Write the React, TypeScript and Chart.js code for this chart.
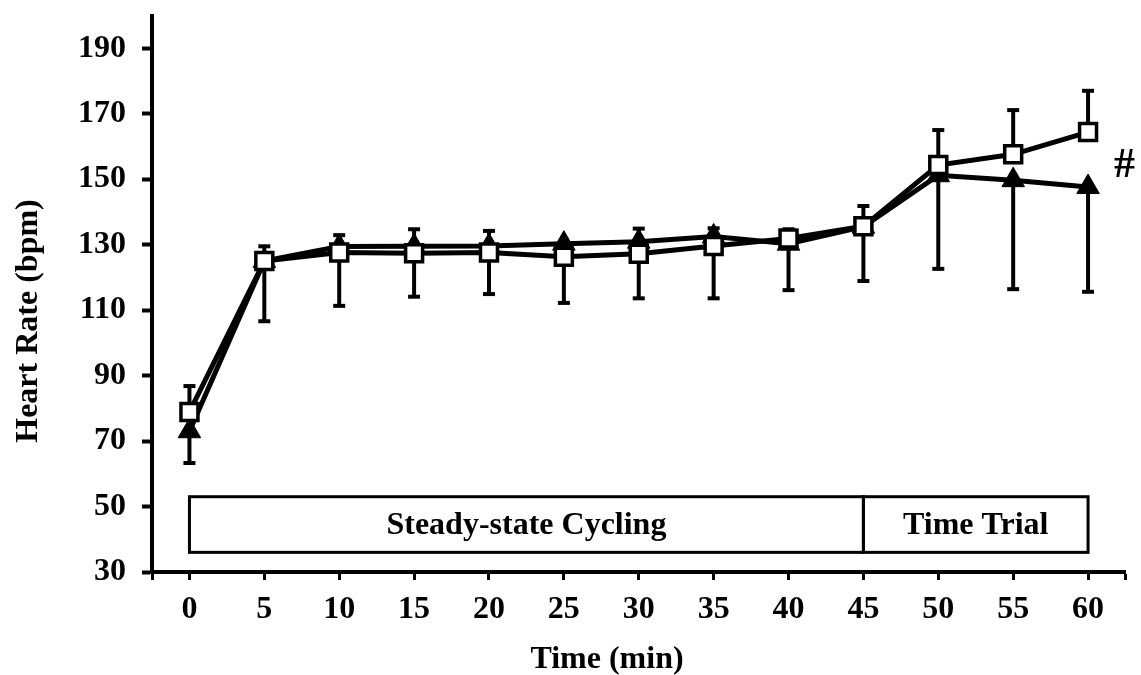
import React, { useEffect, useRef } from "react";
import { Chart, registerables } from "chart.js";

Chart.register(...registerables);

// ---- data ----
const TIMES = [0, 5, 10, 15, 20, 25, 30, 35, 40, 45, 50, 55, 60];
const TRIANGLE_HR = [73, 125, 129.4, 129.5, 129.6, 130.3, 130.9, 132.5, 130.3, 135.5, 151.2, 149.7, 147.6];
const TRIANGLE_SD = [9.7, 18.4, 18.1, 15.4, 14.7, 18.1, 17.3, 18.9, 14.2, 16.6, 28.6, 33.3, 32];
const SQUARE_HR = [78.9, 125, 127.6, 127.4, 127.6, 126.3, 127.2, 129.6, 131.9, 135.6, 154.3, 157.6, 164.4];
const SQUARE_SD = [7.9, 4.5, 5.3, 7.3, 6.6, 4, 7.7, 5.4, 2.8, 6.2, 10.7, 13.5, 12.6];
const Y_TICKS = [30, 50, 70, 90, 110, 130, 150, 170, 190];
const X_TICKS = [0, 5, 10, 15, 20, 25, 30, 35, 40, 45, 50, 55, 60];
const PHASE_LABELS = ["Steady-state Cycling", "Time Trial"];
const PHASE_STARTS = [0, 45];
const PHASE_ENDS = [45, 60];
const PHASE_BOX_BOTTOM = 36;
const PHASE_BOX_TOP = 53;
const SIG_MARK = "#";
const SIG_MARK_Y = 154;
const X_TITLE = "Time (min)";
const Y_TITLE = "Heart Rate (bpm)";

const FONT_FAMILY = "'Liberation Serif', 'Times New Roman', serif";
const FONT_SIZE = 32;

const errorBarsPlugin = {
  id: "errorBars",
  beforeDatasetsDraw(chart: any) {
    const { ctx, scales } = chart;
    const x = scales.x;
    const y = scales.y;
    ctx.save();
    ctx.strokeStyle = "#000";
    ctx.lineCap = "butt";
    const draw = (vals: number[], sds: number[], dir: number) => {
      vals.forEach((v, i) => {
        const px = x.getPixelForValue(TIMES[i]);
        const y0 = y.getPixelForValue(v);
        const y1 = y.getPixelForValue(v + dir * sds[i]);
        ctx.lineWidth = 4;
        ctx.beginPath();
        ctx.moveTo(px, y0);
        ctx.lineTo(px, y1);
        ctx.stroke();
        ctx.beginPath();
        ctx.moveTo(px - 6, y1);
        ctx.lineTo(px + 6, y1);
        ctx.stroke();
      });
    };
    draw(TRIANGLE_HR, TRIANGLE_SD, -1);
    draw(SQUARE_HR, SQUARE_SD, 1);

    // phase boxes
    ctx.lineWidth = 3;
    ctx.fillStyle = "#000";
    ctx.font = `bold ${FONT_SIZE}px ${FONT_FAMILY}`;
    ctx.textAlign = "center";
    ctx.textBaseline = "middle";
    PHASE_LABELS.forEach((label, i) => {
      const x0 = x.getPixelForValue(PHASE_STARTS[i]);
      const x1 = x.getPixelForValue(PHASE_ENDS[i]);
      const yt = y.getPixelForValue(PHASE_BOX_TOP);
      const yb = y.getPixelForValue(PHASE_BOX_BOTTOM);
      ctx.strokeRect(x0, yt, x1 - x0, yb - yt);
      ctx.fillText(label, (x0 + x1) / 2, (yt + yb) / 2 + 1);
    });
    ctx.restore();
  },
  afterDraw(chart: any) {
    const { ctx, scales } = chart;
    const x = scales.x;
    const y = scales.y;
    ctx.save();
    ctx.fillStyle = "#000";
    // significance mark
    ctx.font = `bold 42px ${FONT_FAMILY}`;
    ctx.textAlign = "left";
    ctx.textBaseline = "middle";
    ctx.fillText(SIG_MARK, x.getPixelForValue(60) + 26, y.getPixelForValue(SIG_MARK_Y));
    // x title
    ctx.font = `bold ${FONT_SIZE}px ${FONT_FAMILY}`;
    ctx.textAlign = "center";
    ctx.textBaseline = "alphabetic";
    ctx.fillText(X_TITLE, 607, 668);
    // y title
    ctx.translate(37, 321);
    ctx.rotate(-Math.PI / 2);
    ctx.fillText(Y_TITLE, 0, 0);
    ctx.restore();
  },
};

export default function App() {
  const canvasRef = useRef<HTMLCanvasElement | null>(null);

  useEffect(() => {
    if (!canvasRef.current) return;
    const chart = new Chart(canvasRef.current, {
      type: "line",
      data: {
        datasets: [
          {
            label: "Squares",
            data: TIMES.map((t, i) => ({ x: t, y: SQUARE_HR[i] })),
            borderColor: "#000",
            borderWidth: 5,
            pointStyle: "rect",
            pointRadius: 12,
            pointBorderWidth: 3.5,
            pointBackgroundColor: "#fff",
            pointBorderColor: "#000",
            tension: 0,
            clip: false,
          },
          {
            label: "Triangles",
            data: TIMES.map((t, i) => ({ x: t, y: TRIANGLE_HR[i] })),
            borderColor: "#000",
            borderWidth: 5,
            pointStyle: "triangle",
            pointRadius: 13,
            pointBorderWidth: 1,
            pointBackgroundColor: "#000",
            pointBorderColor: "#000",
            tension: 0,
            clip: false,
          },
        ],
      },
      options: {
        animation: false,
        responsive: true,
        maintainAspectRatio: false,
        layout: { padding: { top: 15, right: 4, left: 0, bottom: 0 } },
        plugins: {
          legend: { display: false },
          tooltip: { enabled: false },
        },
        scales: {
          x: {
            type: "linear",
            min: -2.5,
            max: 62.5,
            afterBuildTicks: (scale: any) => {
              scale.ticks = [-2.5, ...X_TICKS, 62.5].map((v) => ({ value: v }));
            },
            afterFit: (scale: any) => {
              scale.height = 103;
              scale.paddingLeft = 0;
              scale.paddingRight = 0;
            },
            ticks: {
              autoSkip: false,
              maxRotation: 0,
              padding: 11,
              color: "#000",
              font: { family: FONT_FAMILY, size: FONT_SIZE, weight: "bold" },
              callback: (v: any) => (X_TICKS.includes(Number(v)) ? String(v) : ""),
            },
            grid: {
              display: true,
              drawOnChartArea: false,
              drawTicks: true,
              tickLength: 8,
              tickWidth: 3,
              tickColor: "#000",
            },
            border: { display: true, color: "#000", width: 4 },
          },
          y: {
            type: "linear",
            min: 30,
            max: 200,
            afterBuildTicks: (scale: any) => {
              scale.ticks = Y_TICKS.map((v) => ({ value: v }));
            },
            afterFit: (scale: any) => {
              scale.width = 152;
              scale.paddingTop = 0;
              scale.paddingBottom = 0;
            },
            ticks: {
              padding: 16,
              color: "#000",
              font: { family: FONT_FAMILY, size: FONT_SIZE, weight: "bold" },
            },
            grid: {
              display: true,
              drawOnChartArea: false,
              drawTicks: true,
              tickLength: 10,
              tickWidth: 4,
              tickColor: "#000",
            },
            border: { display: true, color: "#000", width: 4 },
          },
        },
      },
      plugins: [errorBarsPlugin],
    } as any);
    return () => chart.destroy();
  }, []);

  return (
    <div style={{ position: "fixed", left: 0, top: 0, width: 1141, height: 675, background: "#fff" }}>
      <canvas ref={canvasRef} />
    </div>
  );
}
